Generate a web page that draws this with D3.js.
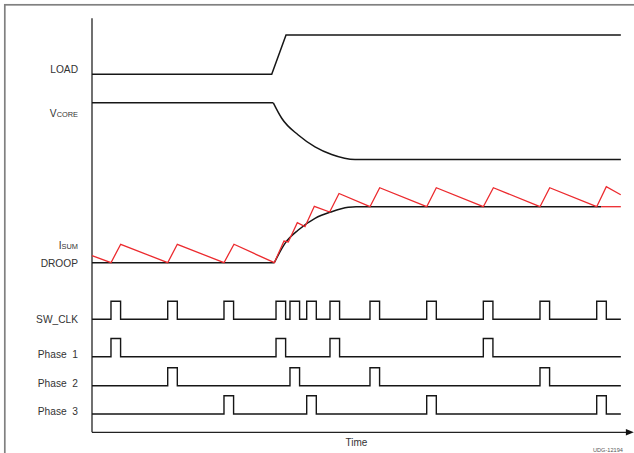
<!DOCTYPE html>
<html>
<head>
<meta charset="utf-8">
<script src="https://cdn.jsdelivr.net/npm/d3@7"></script>
<style>
  html, body { margin: 0; padding: 0; background: #fff; }
  svg { display: block; }
  text { font-family: "Liberation Sans", Arial, Helvetica, sans-serif; fill: #333; }
</style>
</head>
<body>
<svg id="chart" width="634" height="453"></svg>
<script>
// ---- Waveform data (time in arbitrary units, levels normalised per trace) ----

// LOAD step: low -> high during the transient
const loadTimes  = [0, 31.81, 34.34, 93.6];
const loadLevels = [0, 0, 1, 1];

// VCORE: flat, then decays to the lower (droop) level
const vcoreFlatTimes  = [0, 32.09];
const vcoreFlatLevels = [1, 1];
const vcoreTimes  = [32.09, 33.58, 36.51, 39.47, 42.42, 46.55, 93.6];
const vcoreLevels = [1, 0.728, 0.432, 0.224, 0.089, 0, 0];

// DROOP: flat, then rises to the new load current level
const droopFlatTimes  = [0, 32.27];
const droopFlatLevels = [0, 0];
const droopTimes  = [32.27, 34.16, 36.51, 39.47, 42.42, 45.36, 46.73, 90.1];
const droopLevels = [0, 0.346, 0.584, 0.793, 0.911, 0.989, 1, 1];

// ISUM: sawtooth riding on the droop level (same scale as DROOP)
const isumTimes  = [0, 3.36, 5.08, 13.4, 15.1, 23.36, 25.13, 32.27, 33.98, 34.74,
                    36.34, 37.7, 39.35, 42.07, 43.72, 49.2, 50.92, 59.24, 60.94,
                    69.26, 71.04, 79.29, 81.01, 89.33, 91.03, 93.58];
const isumLevels = [0.125, 0, 0.329, 0, 0.329, 0, 0.329, 0, 0.3875, 0.37,
                    0.714, 0.643, 1.007, 0.905, 1.236, 1, 1.339, 1, 1.339,
                    1, 1.339, 1, 1.339, 1, 1.357, 1.214];
const isumTailTimes  = [90.1, 93.6];
const isumTailLevels = [1, 1];

// Phase pulse start times; every pulse lasts pulseWidth
const pulseWidth = 1.7;
const phase1Starts = [3.36, 32.57, 42.12, 69.26];
const phase2Starts = [13.4, 35.04, 49.2, 79.29];
const phase3Starts = [23.36, 38.0, 59.24, 89.33];
const traceEnd = 93.6;

// Trace labels
const labelNames = ["LOAD", "VCORE", "ISUM", "DROOP", "SW_CLK", "Phase  1", "Phase  2", "Phase  3"];
const axisTitle = "Time";
const figureId = "UDG-12194";

// ---- Drawing ----
const svg = d3.select("#chart");

const x = d3.scaleLinear().domain([0, 96]).range([92, 634.4]);

// vertical placement of each trace: level 0 -> first value, level 1 -> second
const yLoad  = d3.scaleLinear().domain([0, 1]).range([74.3, 35]);
const yVcore = d3.scaleLinear().domain([0, 1]).range([159.5, 102.8]);
const yDroop = d3.scaleLinear().domain([0, 1]).range([262.7, 206.7]);
const ySw    = d3.scaleLinear().domain([0, 1]).range([319.3, 301.3]);
const yP1    = d3.scaleLinear().domain([0, 1]).range([356.7, 338.5]);
const yP2    = d3.scaleLinear().domain([0, 1]).range([385.7, 367.7]);
const yP3    = d3.scaleLinear().domain([0, 1]).range([414, 395.8]);

// outer frame
svg.append("rect")
  .attr("x", 4.8).attr("y", 4.8)
  .attr("width", 660).attr("height", 470)
  .attr("fill", "none")
  .attr("stroke", "#808080")
  .attr("stroke-width", 1.7);

// axes
const axisY = 432.3;
svg.append("line")
  .attr("x1", x(0)).attr("x2", x(0))
  .attr("y1", 18.3).attr("y2", axisY)
  .attr("stroke", "#111").attr("stroke-width", 1.2);
svg.append("line")
  .attr("x1", x(0)).attr("x2", x(95.2))
  .attr("y1", axisY).attr("y2", axisY)
  .attr("stroke", "#222").attr("stroke-width", 1.2);
svg.append("path")
  .attr("d", d3.line()([[x(95.2) - 4, axisY - 3.3], [x(96) - 0.6, axisY], [x(95.2) - 4, axisY + 3.3]]) + "Z")
  .attr("fill", "#111");

function zipPts(ts, vs) { return ts.map((t, i) => [t, vs[i]]); }

function trace(pts, yScale, curve, color, width) {
  const gen = d3.line()
    .x(d => x(d[0]))
    .y(d => yScale(d[1]))
    .curve(curve);
  svg.append("path")
    .attr("d", gen(pts))
    .attr("fill", "none")
    .attr("stroke", color)
    .attr("stroke-width", width)
    .attr("stroke-linejoin", "miter")
    .attr("stroke-linecap", "butt");
}

function pulseTrain(starts) {
  const pts = [[0, 0]];
  starts.slice().sort((a, b) => a - b).forEach(s => {
    pts.push([s, 0], [s, 1], [s + pulseWidth, 1], [s + pulseWidth, 0]);
  });
  pts.push([traceEnd, 0]);
  return pts;
}

const black = "#161616";
const red = "#ec2a2e";

trace(zipPts(loadTimes, loadLevels), yLoad, d3.curveLinear, black, 1.5);
trace(zipPts(vcoreFlatTimes, vcoreFlatLevels), yVcore, d3.curveLinear, black, 1.5);
trace(zipPts(vcoreTimes, vcoreLevels), yVcore, d3.curveMonotoneX, black, 1.5);
trace(zipPts(droopFlatTimes, droopFlatLevels), yDroop, d3.curveLinear, black, 1.5);
trace(zipPts(droopTimes, droopLevels), yDroop, d3.curveMonotoneX, black, 1.5);
trace(zipPts(isumTimes, isumLevels), yDroop, d3.curveLinear, red, 1.3);
trace(zipPts(isumTailTimes, isumTailLevels), yDroop, d3.curveLinear, red, 1.3);

const swStarts = phase1Starts.concat(phase2Starts, phase3Starts);
trace(pulseTrain(swStarts), ySw, d3.curveLinear, black, 1.4);
trace(pulseTrain(phase1Starts), yP1, d3.curveLinear, black, 1.4);
trace(pulseTrain(phase2Starts), yP2, d3.curveLinear, black, 1.4);
trace(pulseTrain(phase3Starts), yP3, d3.curveLinear, black, 1.4);

// trace labels (right aligned next to the vertical axis)
const labelBaselines = [73.3, 117.3, 249.3, 267, 323, 358.3, 386.7, 415];
const labelX = 78;
const mainSize = 10.2, subSize = 7.4;

labelNames.forEach((name, i) => {
  const t = svg.append("text")
    .attr("x", labelX)
    .attr("y", labelBaselines[i])
    .attr("text-anchor", "end")
    .style("font-size", mainSize + "px")
    .attr("xml:space", "preserve");
  if (name === "VCORE" || name === "ISUM") {
    t.append("tspan").text(name[0]);
    t.append("tspan").style("font-size", subSize + "px").text(name.slice(1));
  } else {
    t.text(name);
  }
});

svg.append("text")
  .attr("x", 345.5).attr("y", 446)
  .style("font-size", "10px")
  .text(axisTitle);

svg.append("text")
  .attr("x", 593).attr("y", 452.3)
  .style("font-size", "5.6px")
  .style("fill", "#555")
  .text(figureId);
</script>
</body>
</html>
